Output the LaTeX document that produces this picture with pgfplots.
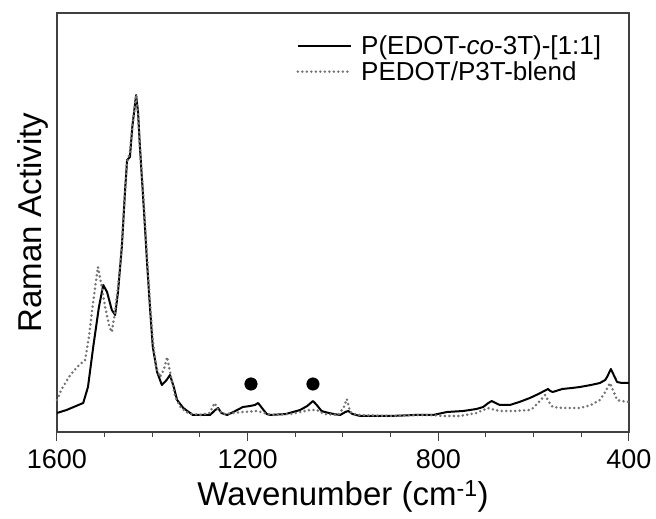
\documentclass[border=0pt]{standalone}
\usepackage{pgfplots}
\pgfplotsset{compat=1.18}
\usepackage{fontspec}
\setmainfont{Liberation Sans}

\pgfplotstableread{
w h
1600 19
1580 22
1560 26
1545 29
1535 45
1524 85
1512 125
1503 147
1495 140
1485 122
1478 117
1472 140
1464 185
1458 235
1453 272
1447 275
1442 305
1434 337
1430 320
1426 285
1418 225
1411 169
1405 125
1399 85
1390 60
1380 47
1370 52
1363 57
1355 45
1348 32
1335 24
1315 17
1290 17
1279 17
1268 22
1262 24
1255 19
1243 17
1230 20
1210 25
1195 26
1185 27
1178 29
1170 24
1160 18
1153 17
1120 18
1090 22
1075 26
1063 31
1055 27
1045 21
1038 20
1020 18
1006 17
995 20
989 21
980 18
964 16
900 16
850 17
811 17
782 20
748 21
720 23
706 25
695 29
688 31
680 29
671 27
650 27
630 30
608 34
590 38
570 43
565 41
560 40
540 43
520 44
503 45
480 47
461 49
450 52
446 55
438 63
432 57
425 50
415 49
400 49
}\copolymer

\pgfplotstableread{
w h
1600 32
1590 43
1575 55
1558 65
1541 72
1533 95
1527 119
1520 145
1514 165
1508 150
1499 125
1490 105
1485 100
1479 118
1472 145
1464 185
1458 235
1453 270
1447 280
1442 305
1434 337
1430 318
1426 285
1418 230
1411 175
1405 130
1399 92
1392 65
1384 55
1376 62
1369 75
1362 58
1352 35
1340 24
1325 19
1300 17
1280 19
1269 29
1262 22
1250 18
1230 19
1210 20
1180 21
1165 19
1150 17
1110 18
1090 20
1070 22
1055 22
1040 18
1010 17
998 25
992 33
985 20
970 17
900 16
850 17
818 17
790 16
755 16
720 19
696 24
680 22
671 21
640 21
610 22
601 24
585 32
576 37
568 30
560 25
540 24
503 24
480 27
461 32
450 40
440 49
432 40
425 32
415 31
400 30
}\blend

\begin{document}
\begin{tikzpicture}
\begin{axis}[
    scale only axis,
    width=572pt, height=419pt,
    x dir=reverse,
    xmin=400, xmax=1600,
    ymin=0, ymax=419,
    xtick={400,800,1200,1600},
    minor x tick num=3,
    ytick=\empty,
    xtick pos=bottom,
    tick align=outside,
    major tick length=9pt,
    minor tick length=5pt,
    axis line style={draw=black!75, line width=1.2pt},
    every tick/.style={draw=black!75, line width=1pt},
    xticklabel style={font=\fontsize{27}{30}\selectfont, yshift=-5pt},
    /pgf/number format/assume math mode=true,
    /pgf/number format/1000 sep={},
    xlabel={Wavenumber (cm\textsuperscript{-1})},
    ylabel={Raman Activity},
    label style={font=\fontsize{33}{36}\selectfont},
    xlabel style={yshift=-5pt},
    ylabel style={yshift=-4pt},
    legend style={draw=none, fill=none, at={(0.955,0.95)}, anchor=north east,
        inner sep=0pt, font=\fontsize{26}{26}\selectfont, row sep=1pt,
        legend cell align=left},
    legend image code/.code={\draw[#1] (0pt,0pt) -- (53pt,0pt); \path (60pt,0pt);},
    clip=false
]
\addplot[black, line width=2pt, line join=round] table[x=w, y=h] {\copolymer};
\addlegendentry{P(EDOT-\textit{co}-3T)-[1:1]}
\addplot[black!55, line width=2.8pt, line cap=round, dash pattern=on 0pt off 4.5pt] table[x=w, y=h] {\blend};
\addlegendentry{PEDOT/P3T-blend}
\addplot[only marks, mark=*, mark size=6.3pt, black, forget plot]
    coordinates {(1193,48) (1063,48)};
\end{axis}
\path (current axis.south west) ++(-57pt,-87pt) rectangle ++(656pt,519pt);
\end{tikzpicture}
\end{document}
